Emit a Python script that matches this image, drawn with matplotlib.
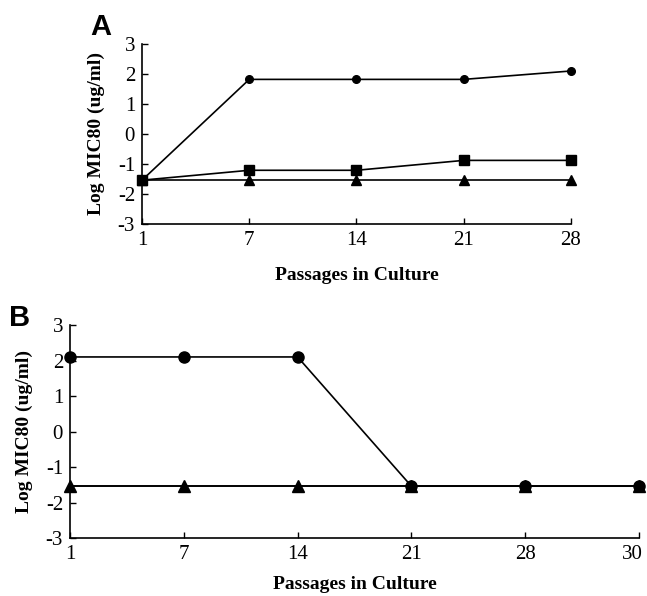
import matplotlib
matplotlib.use('Agg')
import matplotlib.pyplot as plt
from matplotlib.transforms import ScaledTranslation

# panel A
a_labels = ['1', '7', '14', '21', '28']
a_circle = [-1.54, 1.82, 1.82, 1.82, 2.1]
a_square = [-1.54, -1.21, -1.21, -0.88, -0.88]
a_triangle = [-1.54, -1.54, -1.54, -1.54, -1.54]

# panel B
b_labels = ['1', '7', '14', '21', '28', '30']
b_circle = [2.1, 2.1, 2.1, -1.54, -1.54, -1.54]
b_triangle = [-1.54, -1.54, -1.54, -1.54, -1.54, -1.54]

plt.rcParams['font.family'] = ['Liberation Serif', 'DejaVu Serif']
plt.rcParams['axes.unicode_minus'] = False

fig = plt.figure(figsize=(6.47, 5.96), dpi=100)


def style(ax, labels, pad, ylab_x):
    x = range(len(labels))
    ax.set_xlim(0, len(labels) - 1)
    ax.set_ylim(-3, 3)
    ax.set_xticks(list(x))
    ax.set_xticklabels(labels)
    ax.set_yticks(range(-3, 4))
    for s in ['top', 'right']:
        ax.spines[s].set_visible(False)
    for s in ['left', 'bottom']:
        ax.spines[s].set_linewidth(1.2)
    ax.tick_params(direction='in', length=4, width=1, labelsize=15, pad=5)
    ax.set_ylabel('Log MIC80 (ug/ml)', fontsize=14, fontweight='bold')
    ax.yaxis.set_label_coords(ylab_x, 0.5)
    ax.set_xlabel('Passages in Culture', fontsize=14, fontweight='bold', labelpad=pad)


axA = fig.add_axes([0.2195, 0.6242, 0.663, 0.302])
x = range(len(a_labels))
axA.plot(x, a_triangle, '-^', color='black', lw=1.2, ms=7, clip_on=False)
axA.plot(x, a_square, '-s', color='black', lw=1.2, ms=7.5, clip_on=False)
axA.plot(x, a_circle, '-o', color='black', lw=1.2, ms=5.5, clip_on=False)
style(axA, a_labels, 12, -0.086)
fig.text(0.155, 0.955, 'A', fontsize=21, fontweight='bold', family='Liberation Sans',
         ha='center', va='center')

axB = fig.add_axes([0.1082, 0.0973, 0.8794, 0.3574])
x = range(len(b_labels))
axB.plot(x, b_triangle, '-^', color='black', lw=1.4, ms=8, clip_on=False)
axB.plot(x, b_circle, '-o', color='black', lw=1.2, ms=8, clip_on=False)
style(axB, b_labels, 9, -0.065)
# last label sits against the right edge, nudge it left a little
fig.canvas.draw()
last = axB.get_xticklabels()[-1]
last.set_transform(last.get_transform() + ScaledTranslation(-5 / 72, 0, fig.dpi_scale_trans))
fig.text(0.03, 0.467, 'B', fontsize=21, fontweight='bold', family='Liberation Sans',
         ha='center', va='center')

plt.savefig('out.png', dpi=100)
plt.close()
